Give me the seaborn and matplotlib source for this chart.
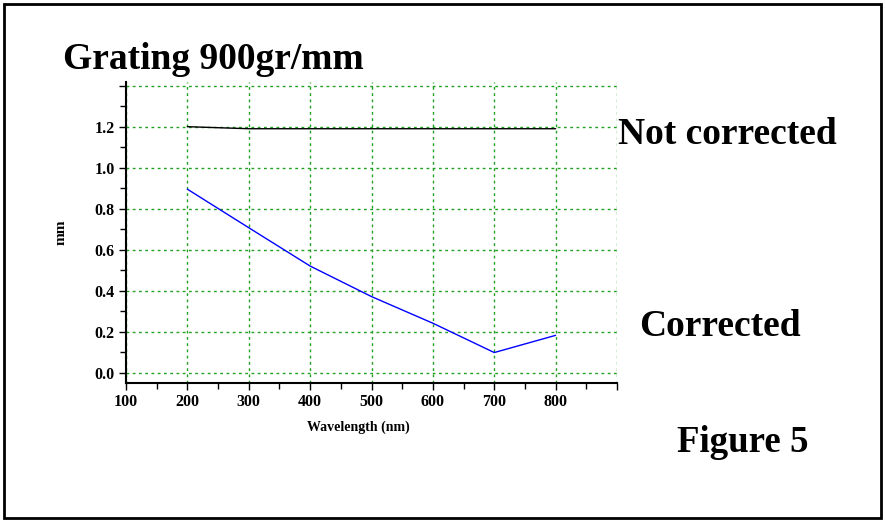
import matplotlib
matplotlib.use("Agg")
import matplotlib.pyplot as plt
from matplotlib.patches import Rectangle
from matplotlib.ticker import MultipleLocator, FixedLocator
import numpy as np
import pandas as pd
import seaborn as sns

# Spot size vs wavelength for a 900 gr/mm grating
wavelength = [200, 300, 400, 500, 600, 700, 800]
not_corrected = [1.20, 1.19, 1.19, 1.19, 1.19, 1.19, 1.19]
corrected = [0.895, 0.707, 0.520, 0.371, 0.241, 0.098, 0.182]
series_names = ["Not corrected", "Corrected"]
series_colors = ["black", "blue"]

df = pd.concat([
    pd.DataFrame({"Wavelength": wavelength, "mm": not_corrected, "series": series_names[0]}),
    pd.DataFrame({"Wavelength": wavelength, "mm": corrected, "series": series_names[1]}),
])

sns.set_style("white")
plt.rcParams["font.family"] = ["Liberation Serif", "DejaVu Serif"]
plt.rcParams["font.weight"] = "bold"
for key in ("text.color", "axes.labelcolor", "xtick.color", "ytick.color"):
    plt.rcParams[key] = "black"

fig = plt.figure(figsize=(8.85, 5.22), dpi=100)
ax = fig.add_axes([0.1424, 0.2669, 0.6972 - 0.1424, 0.8437 - 0.2669])

sns.lineplot(data=df, x="Wavelength", y="mm", hue="series",
             palette=dict(zip(series_names, series_colors)),
             linewidth=1.0, legend=False, ax=ax, zorder=3)

ax.set_xlim(100, 900)
ax.set_ylim(-0.049, 1.42)

ax.xaxis.set_major_locator(FixedLocator(np.arange(100, 901, 100)))
ax.xaxis.set_minor_locator(MultipleLocator(50))
ax.yaxis.set_major_locator(FixedLocator(np.round(np.arange(0, 1.41, 0.2), 1)))
ax.yaxis.set_minor_locator(MultipleLocator(0.1))
ax.set_xticklabels([str(v) if v < 900 else "" for v in range(100, 901, 100)])
ax.set_yticklabels([f"{v:.1f}" if v < 1.3 else "" for v in np.arange(0, 1.41, 0.2)])

ax.grid(True, which="major", color="#22a022", linestyle=(0, (2, 2.5)), linewidth=1.0)
for s in ("top", "right"):
    ax.spines[s].set_visible(False)
for s in ("left", "bottom"):
    ax.spines[s].set_color("black")
    ax.spines[s].set_linewidth(1.5)

ax.tick_params(axis="both", which="major", direction="out", length=5, width=1,
               color="black", labelcolor="black", labelsize=11.5, pad=3,
               left=True, bottom=True)
ax.tick_params(axis="both", which="minor", direction="out", length=4, width=1,
               color="black", left=True, bottom=True)
for lbl in ax.get_xticklabels() + ax.get_yticklabels():
    lbl.set_fontweight("bold")

ax.set_xlabel("Wavelength (nm)", fontsize=10, fontweight="bold", color="black")
ax.set_ylabel("mm", fontsize=11, fontweight="bold", color="black")
ax.xaxis.set_label_coords(0.4725, -0.127)
ax.yaxis.set_label_coords(-0.12, 0.5)

fig.text(63 / 885, 1 - 69 / 522, "Grating 900gr/mm", fontsize=27, fontweight="bold", color="black")
fig.text(618 / 885, 1 - 144 / 522, "Not corrected", fontsize=27, fontweight="bold", color="black")
fig.text(639 / 885, 1 - 336 / 522, "Corrected", fontsize=27, fontweight="bold", color="black")
fig.text(677 / 885, 1 - 452 / 522, "Figure 5", fontsize=26.6, fontweight="bold", color="black")

fig.patches.append(Rectangle((4 / 885, 4 / 522), 1 - 8 / 885, 1 - 8 / 522,
                             transform=fig.transFigure, fill=False,
                             edgecolor="black", linewidth=2))

fig.savefig("out.png", dpi=100)
